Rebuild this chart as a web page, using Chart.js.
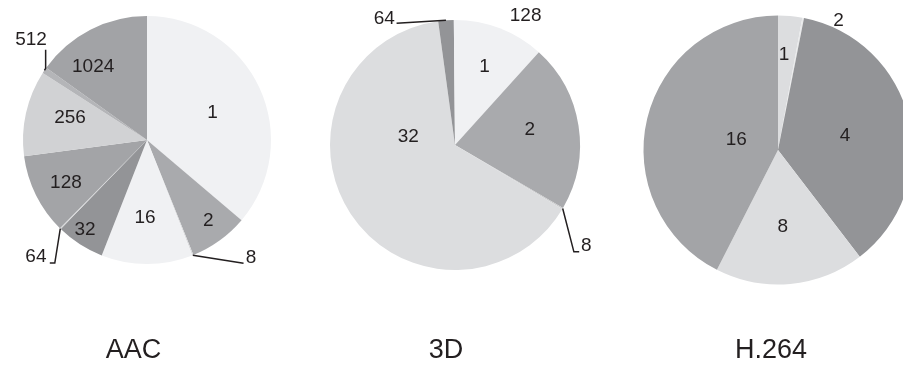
<!DOCTYPE html>
<html><head><meta charset="utf-8">
<script src="https://cdn.jsdelivr.net/npm/chart.js@4/dist/chart.umd.min.js"></script>
<style>
html,body{margin:0;padding:0;background:#fff;overflow:hidden;width:903px;height:366px;position:relative}
canvas{position:absolute;top:0}
</style></head><body>
<canvas id="c1" width="300" height="366" style="left:0px"></canvas>
<canvas id="c2" width="300" height="366" style="left:305px"></canvas>
<canvas id="c3" width="320" height="366" style="left:605px"></canvas>
<script>
// ---- data ----
const aacLabels = ['1','2','8','16','32','64','128','256','512','1024'];
const aacValues = [36.2, 7.7, 0.15, 11.9, 6.3, 0.15, 10.5, 11.2, 0.8, 15.1];
const d3Labels = ['1','2','8','32','64','128'];
const d3Values = [11.7, 21.7, 0.15, 64.3, 2.0, 0.15];
const h264Labels = ['1','2','4','8','16'];
const h264Values = [2.9, 0.2, 36.5, 17.9, 42.5];
const chartTitles = ['AAC', '3D', 'H.264'];

// ---- styles ----
const aacColors = ['#f0f1f3','#a9aaad','#d9dadc','#f0f1f3','#939497','#d6d7d9','#a3a4a7','#d1d2d4','#b4b5b8','#a2a3a6'];
const d3Colors = ['#f0f1f3','#a9aaad','#c8c9cb','#dcdddf','#939497','#f0f1f3'];
const h264Colors = ['#dcdddf','#e8e9ea','#939497','#dcdddf','#a3a4a7'];

// label placement: inside {r: fraction of radius, da: angle offset deg}
// outside {path: leader points relative to arc edge, tx, ty: text offset, align}
const aacPlace = [
  {r:0.57, da:2.6}, {r:0.82, da:-1.2},
  {path:[[50.7,8]], tx:53, ty:2.7, align:'left'},
  {r:0.63, da:1.4}, {r:0.88, da:1.9},
  {path:[[-5.5,34.4],[-10.5,34.4]], tx:-13.8, ty:28.6, align:'right'},
  {r:0.74, da:-1.5}, {r:0.645, da:3.3},
  {path:[[1.2,-2],[1.2,-20.5]], tx:2.4, ty:-30.8, align:'right'},
  {r:0.73, da:-9.3}
];
const d3Place = [
  {r:0.67, da:-0.5}, {r:0.61, da:-2.5},
  {path:[[11.2,43.4],[16.5,43.4]], tx:18.2, ty:37.2, align:'left'},
  {r:0.38, da:43.6},
  {path:[[-49.4,3]], tx:-51.1, ty:-2, align:'right'},
  {tx:71.2, ty:-4.2, align:'center'}
];
const h264Place = [
  {r:0.71, da:-1.6},
  {tx:35.3, ty:2.9, align:'center'},
  {r:0.51, da:0.8}, {r:0.57, da:1.6}, {r:0.32, da:0.8}
];

const FONT = '"Liberation Sans", Arial, Helvetica, sans-serif';
const INK = '#231f20';

const sliceLabels = {
  id: 'sliceLabels',
  afterDatasetsDraw(chart, args, opts) {
    const ctx = chart.ctx;
    const meta = chart.getDatasetMeta(0);
    const labels = chart.data.labels;
    ctx.save();
    ctx.font = '19px ' + FONT;
    ctx.fillStyle = INK;
    ctx.strokeStyle = INK;
    ctx.lineWidth = 1.5;
    meta.data.forEach((arc, i) => {
      const p = opts.place[i];
      if (!p) return;
      const mid = (arc.startAngle + arc.endAngle) / 2;
      ctx.textBaseline = 'middle';
      if (p.r !== undefined) {
        const a = mid + (p.da || 0) * Math.PI / 180;
        const d = arc.outerRadius * p.r;
        ctx.textAlign = 'center';
        ctx.fillText(labels[i], arc.x + d * Math.cos(a), arc.y + d * Math.sin(a));
      } else {
        const ax = arc.x + arc.outerRadius * Math.cos(mid);
        const ay = arc.y + arc.outerRadius * Math.sin(mid);
        if (p.path) {
          ctx.beginPath();
          ctx.moveTo(ax, ay);
          p.path.forEach(([dx, dy]) => ctx.lineTo(ax + dx, ay + dy));
          ctx.stroke();
        }
        ctx.textAlign = p.align || 'center';
        ctx.fillText(labels[i], ax + p.tx, ay + p.ty);
      }
    });
    ctx.restore();
  }
};

const bottomTitle = {
  id: 'bottomTitle',
  afterDraw(chart, args, opts) {
    const ctx = chart.ctx;
    ctx.save();
    ctx.font = '27px ' + FONT;
    ctx.fillStyle = INK;
    ctx.textAlign = 'center';
    ctx.textBaseline = 'alphabetic';
    ctx.fillText(opts.text, opts.x, opts.y);
    ctx.restore();
  }
};

function makePie(id, labels, values, colors, place, title, pad, titleX) {
  return new Chart(document.getElementById(id), {
    type: 'pie',
    data: { labels: labels, datasets: [{ data: values, backgroundColor: colors, borderWidth: 0 }] },
    options: {
      responsive: false,
      animation: false,
      layout: { padding: pad },
      plugins: {
        legend: { display: false },
        tooltip: { enabled: false },
        title: { display: false },
        sliceLabels: { place: place },
        bottomTitle: { text: title, x: titleX, y: 358 }
      }
    },
    plugins: [sliceLabels, bottomTitle]
  });
}

makePie('c1', aacLabels, aacValues, aacColors, aacPlace, chartTitles[0],
  {left:23, right:29, top:16, bottom:102}, 133.5);
makePie('c2', d3Labels, d3Values, d3Colors, d3Place, chartTitles[1],
  {left:25, right:25, top:20, bottom:96}, 141);
makePie('c3', h264Labels, h264Values, h264Colors, h264Place, chartTitles[2],
  {left:38.5, right:12.5, top:15.5, bottom:81.5}, 166);
</script>
</body></html>
